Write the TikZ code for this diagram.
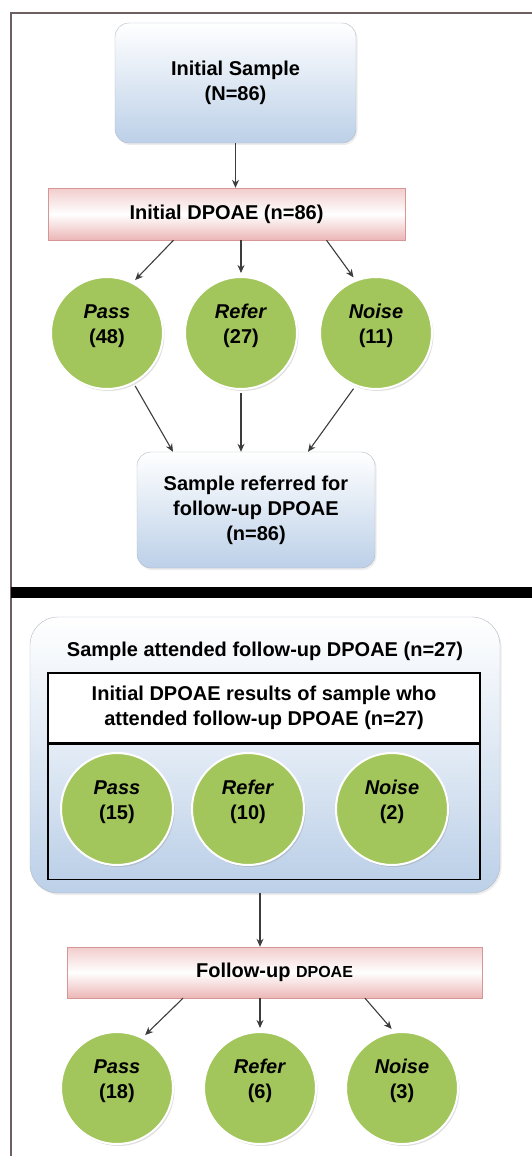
\documentclass[tikz,border=0pt]{standalone}
\usepackage{fontspec}
\setmainfont{Liberation Sans}
\usetikzlibrary{arrows.meta,shadows}
\definecolor{ballgreen}{RGB}{163,198,92}
\definecolor{boxblue}{RGB}{188,208,232}
\definecolor{boxedge}{RGB}{178,184,196}
\definecolor{boxpink}{RGB}{236,182,182}
\definecolor{pinkedge}{RGB}{214,150,150}
\definecolor{frameline}{RGB}{110,96,96}
\definecolor{arrowgray}{RGB}{60,60,60}
\tikzset{every node/.style={font=\fontsize{20}{25}\selectfont\bfseries},
  bluebox/.style={rectangle,rounded corners=14pt,draw=boxedge,top color=white,bottom color=boxblue,align=center,inner sep=0pt,drop shadow={opacity=0.15,shadow xshift=1.5pt,shadow yshift=-2pt}},
  pinkbox/.style={rectangle,draw=pinkedge,top color=boxpink!70,bottom color=boxpink,middle color=white,minimum height=52pt,inner sep=0pt},
  ball/.style={circle,fill=ballgreen,draw=white,line width=2pt,minimum size=112pt,inner sep=0pt,outer sep=4pt,drop shadow={opacity=0.25,shadow xshift=1.5pt,shadow yshift=-2pt}},
  balltext/.style={align=center,yshift=7pt},
  flow/.style={draw=arrowgray,line width=1.1pt,-{Stealth[length=8pt,width=7pt]}}}
\newcommand{\resultpt}[4]{\node[ball,label={[balltext]center:{\textit{#3}\\(#4)}}] at (#1) (#2) {}}

\begin{document}
\begin{tikzpicture}[x=1pt,y=-1pt]
	\useasboundingbox (0,0) rectangle (532,1156);
	\draw[frameline,line width=1.5pt] (11,1156) -- (11,13) -- (532,13);
	\fill[black] (11,587) rectangle (532,598);

	% first screening
	\node[bluebox,minimum width=241pt,minimum height=120pt] at (235.5,83) (sample) {Initial Sample\\(N=86)};
	\node[pinkbox,minimum width=357pt] at (226.5,214) (dpoae) {Initial DPOAE (n=86)};
	\resultpt{107,333}{pass1}{Pass}{48};
	\resultpt{241,333}{refer1}{Refer}{27};
	\resultpt{376,333}{noise1}{Noise}{11};
	\node[bluebox,minimum width=238pt,minimum height=116pt] at (256,510) (referred) {Sample referred for\\follow-up DPOAE\\(n=86)};

	\draw[flow] (sample) -- (sample |- dpoae.north);
	\draw[flow] ([xshift=-53pt]dpoae.south) -- (pass1.62);
	\draw[flow] (refer1 |- dpoae.south) -- (refer1);
	\draw[flow] ([xshift=100pt]dpoae.south) -- (noise1.112);
	\draw[flow] (pass1.-62) -- ([xshift=-83pt]referred.north);
	\draw[flow] (refer1) -- (refer1 |- referred.north);
	\draw[flow] (noise1.-112) -- ([xshift=52pt]referred.north);

	% follow-up
	\node[bluebox,rounded corners=28pt,minimum width=470pt,minimum height=276pt,
		label={[anchor=center,yshift=-35pt]north:Sample attended follow-up DPOAE (n=27)}] at (265,755) (attended) {};
	\node[draw=black,line width=1.2pt,fill=white,minimum width=432pt,minimum height=70pt,align=center,inner sep=0pt] at (264,708) (initres) {Initial DPOAE results of sample who\\attended follow-up DPOAE (n=27)};
	\node[draw=black,line width=1.2pt,top color=boxblue!40,bottom color=boxblue,minimum width=432pt,minimum height=135pt,inner sep=0pt,anchor=north] at (initres.south) (initballs) {};
	\resultpt{117,809}{pass2}{Pass}{15};
	\resultpt{248,809}{refer2}{Refer}{10};
	\resultpt{392,809}{noise2}{Noise}{2};

	\node[pinkbox,minimum width=415pt,minimum height=51pt] at (274.5,972.5) (follow) {Follow-up {\fontsize{16}{20}\selectfont DPOAE}};
	\resultpt{117,1088}{pass3}{Pass}{18};
	\resultpt{260,1088}{refer3}{Refer}{6};
	\resultpt{402,1088}{noise3}{Noise}{3};

	\draw[flow] (attended.south -| refer3) -- (refer3 |- follow.north);
	\draw[flow] ([xshift=-91.5pt]follow.south) -- (pass3.62);
	\draw[flow] (refer3 |- follow.south) -- (refer3);
	\draw[flow] ([xshift=90.5pt]follow.south) -- (noise3.100);
\end{tikzpicture}
\end{document}
